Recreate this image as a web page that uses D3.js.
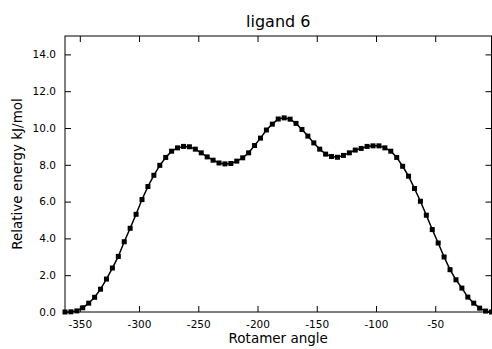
<!DOCTYPE html>
<html>
<head>
<meta charset="utf-8">
<script src="https://cdn.jsdelivr.net/npm/d3@7"></script>
<style>
  body { margin: 0; background: #fff; }
  text { font-family: "DejaVu Sans", sans-serif; fill: #000; }
</style>
</head>
<body>
<div id="viz"></div>
<script>
// rotamer scan, 5 degree steps
var angles = d3.range(73).map(function(i) { return -362.5 + 5 * i; });
var energy = [
	0.00, 0.01, 0.06, 0.23, 0.48, 0.80, 1.24, 1.79, 2.39, 3.02,
	3.82, 4.55, 5.31, 6.11, 6.82, 7.43, 7.97, 8.40, 8.74, 8.92,
	9.00, 8.98, 8.85, 8.65, 8.43, 8.25, 8.10, 8.05, 8.07, 8.20,
	8.38, 8.65, 9.05, 9.45, 9.89, 10.21, 10.49, 10.55, 10.48, 10.25,
	9.92, 9.56, 9.19, 8.85, 8.58, 8.45, 8.41, 8.51, 8.65, 8.80,
	8.89, 9.00, 9.03, 9.03, 8.92, 8.74, 8.40, 7.92, 7.38, 6.71,
	6.02, 5.26, 4.48, 3.75, 2.99, 2.30, 1.75, 1.30, 0.81, 0.48,
	0.21, 0.05, 0.00
];
var xTicks = [-350, -300, -250, -200, -150, -100, -50];
var yTicks = [0, 2, 4, 6, 8, 10, 12, 14];

var width = 492, height = 349;
var margin = {top: 36, right: 0.5, bottom: 37, left: 65};
var w = width - margin.left - margin.right;
var h = height - margin.top - margin.bottom;

var svg = d3.select('#viz')
	.append('svg')
		.attr('width', width)
		.attr('height', height);

var g = svg.append('g')
	.attr('transform', 'translate(' + margin.left + ',' + margin.top + ')');

var x = d3.scaleLinear().domain([angles[0], angles[angles.length - 1]]).range([0, w]);
var y = d3.scaleLinear().domain([0, 15]).range([h, 0]);

var pts = angles.map(function(a, i) { return {a: a, e: energy[i]}; });

// axes, ticks pointing inward like old matplotlib
function styleAxis(sel) {
	sel.select('.domain').remove();
	sel.selectAll('line').attr('stroke', '#000').attr('stroke-width', 1);
	sel.selectAll('text').style('font-size', '10.5px');
}

g.append('g')
	.attr('transform', 'translate(0,' + h + ')')
	.call(d3.axisBottom(x).tickValues(xTicks).tickSizeInner(-6).tickPadding(9)
		.tickFormat(function(d) { return '-' + Math.abs(d); }))
	.call(styleAxis);

g.append('g')
	.call(d3.axisTop(x).tickValues(xTicks).tickSizeInner(-6).tickFormat(''))
	.call(styleAxis);

g.append('g')
	.call(d3.axisLeft(y).tickValues(yTicks).tickSizeInner(-6).tickPadding(9)
		.tickFormat(d3.format('.1f')))
	.call(styleAxis);

g.append('g')
	.attr('transform', 'translate(' + w + ',0)')
	.call(d3.axisRight(y).tickValues(yTicks).tickSizeInner(-6).tickFormat(''))
	.call(styleAxis);

// data line + square markers
var line = d3.line()
	.x(function(d) { return x(d.a); })
	.y(function(d) { return y(d.e); })
	.curve(d3.curveLinear);

g.append('path')
	.datum(pts)
	.attr('fill', 'none')
	.attr('stroke', '#000')
	.attr('stroke-width', 1.5)
	.attr('d', line);

g.selectAll('rect.m')
	.data(pts)
	.enter().append('rect')
		.attr('class', 'm')
		.attr('x', function(d) { return x(d.a) - 2.5; })
		.attr('y', function(d) { return y(d.e) - 2.5; })
		.attr('width', 5)
		.attr('height', 5)
		.attr('fill', '#000');

// frame
g.append('rect')
	.attr('width', w)
	.attr('height', h)
	.attr('fill', 'none')
	.attr('stroke', '#000')
	.attr('stroke-width', 1);

// labels
svg.append('text')
	.attr('x', margin.left + w / 2)
	.attr('y', 27)
	.attr('text-anchor', 'middle')
	.style('font-size', '16px')
	.text('ligand 6');

svg.append('text')
	.attr('x', margin.left + w / 2)
	.attr('y', 343)
	.attr('text-anchor', 'middle')
	.style('font-size', '13.5px')
	.text('Rotamer angle');

svg.append('text')
	.attr('transform', 'translate(22,' + (margin.top + h / 2) + ') rotate(-90)')
	.attr('text-anchor', 'middle')
	.style('font-size', '13.5px')
	.text('Relative energy kJ/mol');
</script>
</body>
</html>
